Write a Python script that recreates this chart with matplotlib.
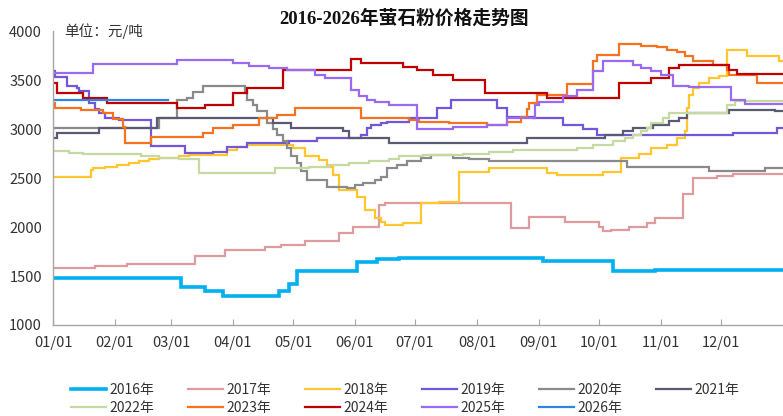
import matplotlib
matplotlib.use("Agg")
import matplotlib.pyplot as plt

plt.rcParams['font.family'] = ['Noto Sans CJK SC', 'DejaVu Sans']

title = "2016-2026年萤石粉价格走势图"
unit_text = "单位：元/吨"
tick_days = [0, 31, 59, 90, 120, 151, 181, 212, 243, 273, 304, 334]
tick_labels = ["01/01", "02/01", "03/01", "04/01", "05/01", "06/01",
               "07/01", "08/01", "09/01", "10/01", "11/01", "12/01"]
y_ticks = [1000, 1500, 2000, 2500, 3000, 3500, 4000]

years = ["2016年", "2017年", "2018年", "2019年", "2020年", "2021年",
         "2022年", "2023年", "2024年", "2025年", "2026年"]
colors = ["#00B0F0", "#DE9A9C", "#FFC62E", "#7456D8", "#8A8A8A", "#5B5A74",
          "#C5D9A0", "#F4731F", "#C00000", "#9A6BF0", "#2E86DE"]

# change points (day of year, value) – step series
d2016 = [0, 64, 76, 85, 113, 118, 122, 152, 162, 173, 245, 280, 301]
v2016 = [1480, 1390, 1350, 1300, 1350, 1420, 1550, 1640, 1670, 1680, 1650, 1550, 1565]

d2017 = [0, 21, 37, 71, 86, 106, 114, 126, 143, 150, 163, 166, 219, 229, 238, 256,
         273, 275, 279, 288, 297, 301, 315, 320, 332, 340]
v2017 = [1580, 1600, 1620, 1700, 1765, 1795, 1815, 1855, 1935, 2005, 2225, 2250, 2240,
         1985, 2105, 2055, 2000, 1960, 1970, 2000, 2040, 2090, 2340, 2500, 2520, 2540]

d2018 = [0, 19, 20, 26, 32, 38, 43, 48, 53, 63, 68, 87, 92, 97, 120, 126, 133, 137,
         140, 143, 152, 156, 161, 164, 166, 175, 184, 193, 203, 218, 247, 252, 275,
         284, 293, 299, 307, 312, 316, 317, 318, 320, 323, 328, 333, 337, 347, 363]
v2018 = [2515, 2585, 2600, 2615, 2635, 2650, 2670, 2690, 2705, 2720, 2735, 2790, 2820,
         2840, 2805, 2720, 2685, 2610, 2530, 2380, 2310, 2175, 2090, 2050, 2020, 2045,
         2240, 2258, 2565, 2600, 2555, 2535, 2565, 2705, 2740, 2805, 2840, 2905, 2975,
         3210, 3350, 3420, 3470, 3520, 3540, 3810, 3740, 3690]

d2019 = [0, 1, 7, 12, 13, 18, 21, 23, 26, 33, 49, 66, 80, 87, 97, 118, 132, 154, 157,
         159, 164, 167, 178, 192, 199, 222, 227, 240, 255, 265, 272, 340, 362]
v2019 = [3590, 3530, 3435, 3420, 3385, 3265, 3200, 3165, 3110, 3095, 2825, 2755, 2770,
         2820, 2855, 2875, 2905, 2940, 3010, 3045, 3060, 3075, 3110, 3210, 3295, 3210,
         3125, 3110, 3040, 2995, 2940, 2960, 3010]

d2020 = [0, 53, 62, 67, 70, 75, 96, 97, 100, 102, 107, 110, 112, 115, 117, 119, 122,
         124, 127, 137, 147, 151, 155, 161, 164, 167, 172, 177, 184, 189, 200, 208,
         218, 287, 328, 356]
v2020 = [3010, 3110, 3295, 3315, 3380, 3435, 3385, 3300, 3250, 3185, 3060, 2995, 2940,
         2875, 2805, 2720, 2650, 2570, 2480, 2410, 2395, 2430, 2445, 2480, 2515, 2600,
         2635, 2670, 2705, 2737, 2705, 2690, 2670, 2615, 2570, 2600]

d2021 = [0, 2, 23, 52, 110, 119, 145, 148, 168, 237, 276, 285, 290, 300, 308, 313,
         317, 338, 361]
v2021 = [2905, 2958, 3010, 3110, 3060, 3010, 2975, 2905, 2855, 2905, 2940, 2975, 3010,
         3040, 3077, 3110, 3165, 3195, 3180]

d2022 = [0, 8, 15, 44, 53, 63, 73, 111, 128, 138, 148, 158, 168, 173, 185, 205, 218,
         230, 258, 262, 270, 280, 286, 290, 294, 297, 299, 305, 308, 337, 341]
v2022 = [2780, 2755, 2745, 2720, 2705, 2690, 2550, 2600, 2617, 2635, 2652, 2670, 2690,
         2720, 2734, 2750, 2765, 2785, 2790, 2805, 2840, 2873, 2907, 2940, 2975, 3010,
         3060, 3110, 3163, 3250, 3285]

d2023 = [0, 1, 14, 25, 30, 35, 36, 49, 75, 80, 90, 103, 112, 121, 154, 178, 183, 198,
         217, 227, 234, 237, 238, 242, 257, 270, 272, 283, 294, 302, 307, 312, 316,
         320, 330, 337, 338, 352]
v2023 = [3265, 3210, 3195, 3160, 3105, 3025, 2855, 2915, 2958, 3010, 3045, 3108, 3145,
         3210, 3110, 3090, 3075, 3057, 3040, 3075, 3125, 3200, 3263, 3345, 3460, 3690,
         3758, 3866, 3852, 3832, 3808, 3790, 3740, 3690, 3655, 3605, 3555, 3470]

d2024 = [0, 2, 15, 27, 62, 76, 90, 97, 115, 149, 154, 175, 182, 190, 200, 216, 247,
         283, 299, 308, 313, 338, 342]
v2024 = [3470, 3370, 3315, 3265, 3215, 3250, 3365, 3420, 3600, 3715, 3670, 3635, 3600,
         3555, 3500, 3365, 3315, 3470, 3520, 3620, 3655, 3605, 3565]

d2025 = [0, 20, 62, 90, 98, 108, 117, 131, 136, 149, 153, 157, 161, 168, 182, 200,
         217, 227, 241, 243, 255, 262, 270, 275, 290, 294, 299, 304, 310, 318, 339, 346]
v2025 = [3570, 3665, 3705, 3670, 3640, 3620, 3600, 3555, 3520, 3400, 3335, 3300, 3275,
         3245, 2995, 3020, 3040, 3110, 3245, 3280, 3335, 3400, 3590, 3690, 3655, 3620,
         3590, 3555, 3440, 3425, 3300, 3260]

d2026 = [0]
v2026 = [3300]

end_days = [365, 365, 365, 365, 365, 365, 365, 365, 365, 365, 57.5]
widths = [2.6, 1.6, 1.6, 1.6, 1.6, 1.6, 1.6, 1.6, 1.6, 1.6, 1.6]

all_days = [d2016, d2017, d2018, d2019, d2020, d2021, d2022, d2023, d2024, d2025, d2026]
all_vals = [v2016, v2017, v2018, v2019, v2020, v2021, v2022, v2023, v2024, v2025, v2026]

fig = plt.figure(figsize=(7.83, 4.16), dpi=100)
ax = fig.add_axes([53 / 783, 1 - 325 / 416, 730 / 783, (325 - 31) / 416])

handles = []
for lab, col, lw, dd, vv, ed in zip(years, colors, widths, all_days, all_vals, end_days):
    xs = list(dd) + [ed]
    ys = list(vv) + [vv[-1]]
    h, = ax.plot(xs, ys, drawstyle='steps-post', color=col, lw=lw, label=lab,
                 solid_joinstyle='miter')
    handles.append(h)

ax.set_xlim(0, 365)
ax.set_ylim(1000, 4000)
ax.set_xticks(tick_days)
ax.set_xticklabels(tick_labels)
ax.set_yticks(y_ticks)
for s in ['top', 'right']:
    ax.spines[s].set_visible(False)
for s in ['left', 'bottom']:
    ax.spines[s].set_color('#A6A6A6')
    ax.spines[s].set_linewidth(1.0)
ax.tick_params(axis='x', direction='in', length=4, color='#A6A6A6', pad=8,
               labelsize=10.5, labelcolor='#333333')
ax.tick_params(axis='y', length=0, pad=8, labelsize=10.5, labelcolor='#333333')

ax.text(0.015, 0.998, unit_text, transform=ax.transAxes, ha='left', va='center',
        fontsize=10.5, color='#333333')
fig.text(404 / 783, 1 - 19 / 416, title, ha='center', va='center', fontsize=13.5,
         fontweight='bold', family=['Liberation Serif', 'Noto Sans CJK SC'], color='#111111')

# row-major legend order for a 6-column, 2-row layout (matplotlib fills columns)
ncol = 6
order = []
for c in range(ncol):
    for r in range(2):
        i = r * ncol + c
        if i < len(handles):
            order.append(i)
leg = fig.legend([handles[i] for i in order], [years[i] for i in order],
                 loc='center', bbox_to_anchor=(405 / 783, 1 - 399 / 416), ncol=ncol,
                 frameon=False, fontsize=10, handlelength=2.5, handletextpad=0.25,
                 columnspacing=2.45, labelspacing=0.3)
for t in leg.get_texts():
    t.set_color('#333333')

fig.savefig("out.png", dpi=100)
